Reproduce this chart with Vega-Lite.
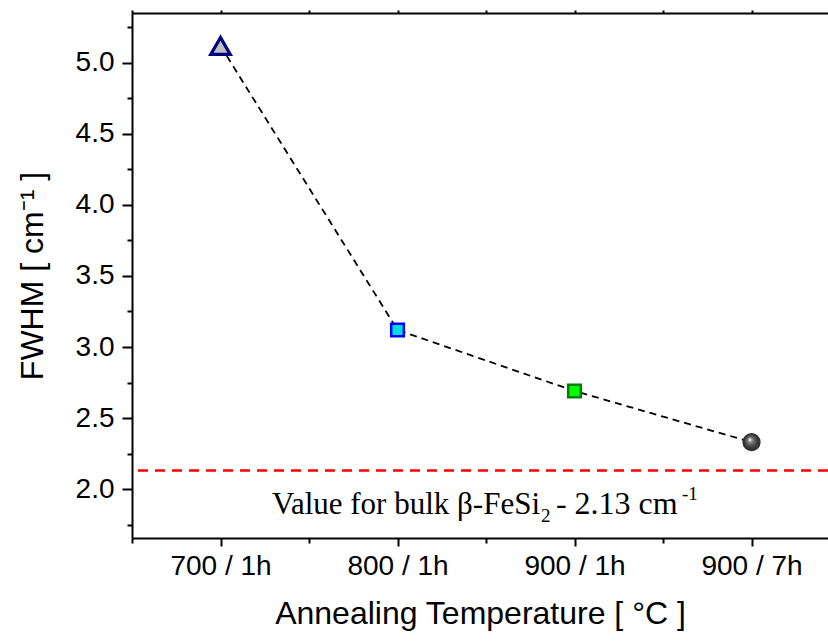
{
  "$schema": "https://vega.github.io/schema/vega-lite/v6.json",
  "autosize": {"type": "none"},
  "width": 696,
  "height": 525,
  "padding": {"left": 132, "top": 13, "right": 0, "bottom": 105},
  "background": "white",
  "config": {
    "view": {"stroke": null},
    "axis": {"grid": false, "labelFont": "Liberation Sans", "titleFont": "Liberation Sans", "labelColor": "black", "titleColor": "black", "domainColor": "black", "tickColor": "black", "titleFontWeight": "normal"}
  },
  "datasets": {
    "pts": [
      {"x": 1, "cond": "700 / 1h", "fwhm": 5.12},
      {"x": 2, "cond": "800 / 1h", "fwhm": 3.12},
      {"x": 3, "cond": "900 / 1h", "fwhm": 2.69},
      {"x": 4, "cond": "900 / 7h", "fwhm": 2.33}
    ]
  },
  "resolve": {"scale": {"x": "shared", "y": "shared"}, "axis": {"x": "independent", "y": "independent"}},
  "layer": [
    {
      "data": {"name": "pts"},
      "mark": {"type": "line", "color": "black", "strokeWidth": 1.8, "strokeDash": [7, 5]},
      "encoding": {
        "x": {"field": "x", "type": "quantitative", "scale": {"domain": [0.5, 4.432], "nice": false, "zero": false},
          "axis": {"orient": "bottom", "values": [1, 2, 3, 4], "labelExpr": "['700 / 1h','800 / 1h','900 / 1h','900 / 7h'][datum.value-1]", "labelFontSize": 28, "tickSize": 8, "tickWidth": 2, "domainWidth": 2, "labelPadding": 6, "title": "Annealing Temperature [ °C ]", "titleFontSize": 32, "titlePadding": 18}},
        "y": {"field": "fwhm", "type": "quantitative", "scale": {"domain": [1.655, 5.352], "nice": false, "zero": false},
          "axis": {"orient": "left", "values": [2, 2.5, 3, 3.5, 4, 4.5, 5], "format": ".1f", "labelFontSize": 28, "tickSize": 10, "tickWidth": 2, "domainWidth": 2, "labelPadding": 8, "title": "FWHM [ cm⁻¹ ]", "titleFontSize": 32, "titlePadding": 26}}
      }
    },
    {
      "data": {"values": [{"v": 2.13}]},
      "mark": {"type": "rule", "color": "#ff0000", "strokeWidth": 2.5, "strokeDash": [10, 7]},
      "encoding": {"y": {"field": "v", "type": "quantitative", "axis": null}}
    },
    {
      "data": {"name": "pts"},
      "transform": [{"filter": "datum.x == 1"}],
      "mark": {"type": "point", "shape": "triangle-up", "filled": true, "fill": "#c0c0c0", "stroke": "#000080", "strokeWidth": 3.2, "size": 380, "opacity": 1},
      "encoding": {
        "x": {"field": "x", "type": "quantitative", "axis": {"orient": "bottom", "values": [0.5, 1.5, 2.5, 3.5], "labels": false, "domain": false, "tickSize": 5, "tickWidth": 2, "title": null}},
        "y": {"field": "fwhm", "type": "quantitative", "axis": {"orient": "left", "values": [1.75, 2.25, 2.75, 3.25, 3.75, 4.25, 4.75, 5.25], "labels": false, "domain": false, "tickSize": 5, "tickWidth": 2, "title": null}}
      }
    },
    {
      "data": {"name": "pts"},
      "transform": [{"filter": "datum.x == 2"}],
      "mark": {"type": "point", "shape": "square", "filled": true, "fill": "#00dddd", "stroke": "#0000ff", "strokeWidth": 2.5, "size": 160, "opacity": 1},
      "encoding": {
        "x": {"field": "x", "type": "quantitative", "axis": {"orient": "top", "values": [0.5, 1, 1.5, 2, 2.5, 3, 3.5, 4], "labels": false, "domainWidth": 2, "tickSize": 3, "tickWidth": 2, "title": null}},
        "y": {"field": "fwhm", "type": "quantitative", "axis": null}
      }
    },
    {
      "data": {"name": "pts"},
      "transform": [{"filter": "datum.x == 3"}],
      "mark": {"type": "point", "shape": "square", "filled": true, "fill": "#00ff00", "stroke": "#008000", "strokeWidth": 2.5, "size": 160, "opacity": 1},
      "encoding": {
        "x": {"field": "x", "type": "quantitative", "axis": null},
        "y": {"field": "fwhm", "type": "quantitative", "axis": null}
      }
    },
    {
      "data": {"name": "pts"},
      "transform": [{"filter": "datum.x == 4"}],
      "mark": {"type": "point", "shape": "circle", "filled": true, "strokeWidth": 0, "size": 330, "opacity": 1,
        "fill": {"gradient": "radial", "x1": 0.4, "y1": 0.35, "r1": 0, "x2": 0.5, "y2": 0.5, "r2": 0.5,
          "stops": [{"offset": 0, "color": "#ffffff"}, {"offset": 0.3, "color": "#777777"}, {"offset": 0.7, "color": "#3c3c3c"}, {"offset": 1, "color": "#2a2a2a"}]}},
      "encoding": {
        "x": {"field": "x", "type": "quantitative", "axis": null},
        "y": {"field": "fwhm", "type": "quantitative", "axis": null}
      }
    },
    {
      "data": {"values": [{"x": 2.805, "y": 1.824, "t": "Value for bulk β-FeSi"}]},
      "mark": {"type": "text", "font": "Liberation Serif", "fontSize": 31, "align": "right", "baseline": "alphabetic", "color": "black"},
      "encoding": {
        "x": {"field": "x", "type": "quantitative", "axis": null},
        "y": {"field": "y", "type": "quantitative", "axis": null},
        "text": {"field": "t"}
      }
    },
    {
      "data": {"values": [{"x": 2.811, "y": 1.768, "t": "2"}]},
      "mark": {"type": "text", "font": "Liberation Serif", "fontSize": 19, "align": "left", "baseline": "alphabetic", "color": "black"},
      "encoding": {
        "x": {"field": "x", "type": "quantitative", "axis": null},
        "y": {"field": "y", "type": "quantitative", "axis": null},
        "text": {"field": "t"}
      }
    },
    {
      "data": {"values": [{"x": 2.895, "y": 1.824, "t": "- 2.13 cm"}]},
      "mark": {"type": "text", "font": "Liberation Serif", "fontSize": 32, "align": "left", "baseline": "alphabetic", "color": "black"},
      "encoding": {
        "x": {"field": "x", "type": "quantitative", "axis": null},
        "y": {"field": "y", "type": "quantitative", "axis": null},
        "text": {"field": "t"}
      }
    },
    {
      "data": {"values": [{"x": 3.607, "y": 1.923, "t": "-1"}]},
      "mark": {"type": "text", "font": "Liberation Serif", "fontSize": 19, "align": "left", "baseline": "alphabetic", "color": "black"},
      "encoding": {
        "x": {"field": "x", "type": "quantitative", "axis": null},
        "y": {"field": "y", "type": "quantitative", "axis": null},
        "text": {"field": "t"}
      }
    }
  ]
}
